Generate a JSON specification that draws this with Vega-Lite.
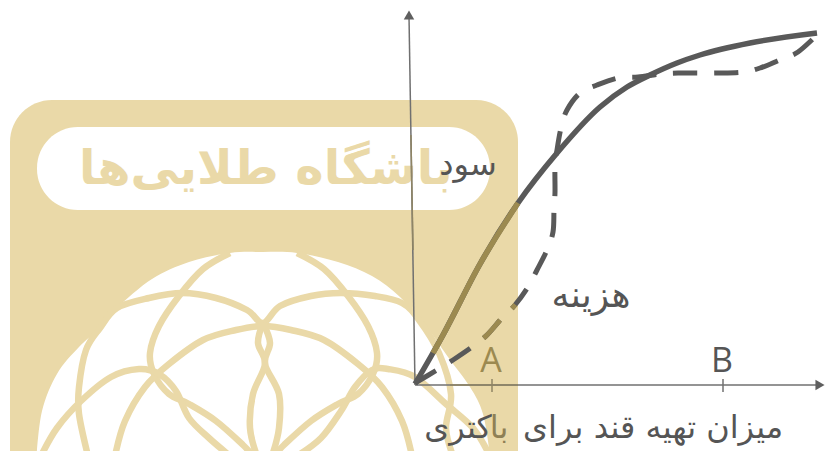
{"$schema":"https://vega.github.io/schema/vega-lite/v6.json","width":825,"height":451,"padding":0,"autosize":{"type":"none"},"background":"white","config":{"view":{"stroke":null}},
"datasets":{
"profit":[{"i":0,"x":415,"y":384},{"i":1,"x":443,"y":335},{"i":2,"x":480,"y":264},{"i":3,"x":518,"y":203},{"i":4,"x":557,"y":153},{"i":5,"x":600,"y":107},{"i":6,"x":627,"y":87},{"i":7,"x":650,"y":75},{"i":8,"x":677,"y":63},{"i":9,"x":700,"y":55},{"i":10,"x":750,"y":43},{"i":11,"x":817,"y":33}],
"profitBand":[{"i":1,"x":433,"y":353},{"i":2,"x":443,"y":335},{"i":3,"x":480,"y":264},{"i":4,"x":518,"y":203}],
"cost":[{"i":0,"x":415,"y":383},{"i":1,"x":437,"y":370},{"i":2,"x":453,"y":360},{"i":3,"x":472,"y":347},{"i":4,"x":487,"y":335},{"i":5,"x":502,"y":318},{"i":6,"x":515,"y":305},{"i":7,"x":528,"y":287},{"i":8,"x":537,"y":270},{"i":9,"x":547,"y":250},{"i":10,"x":553,"y":232},{"i":11,"x":554,"y":210},{"i":12,"x":555,"y":192},{"i":13,"x":555,"y":167},{"i":14,"x":557,"y":150},{"i":15,"x":561,"y":128},{"i":16,"x":567,"y":110},{"i":17,"x":580,"y":93},{"i":18,"x":597,"y":85},{"i":19,"x":618,"y":78},{"i":20,"x":638,"y":77},{"i":21,"x":660,"y":74},{"i":22,"x":678,"y":73},{"i":23,"x":702,"y":73},{"i":24,"x":718,"y":73},{"i":25,"x":743,"y":72},{"i":26,"x":760,"y":68},{"i":27,"x":782,"y":59},{"i":28,"x":798,"y":52},{"i":29,"x":817,"y":35}],
"axes":[{"s":"y","i":0,"x":409,"y":16},{"s":"y","i":1,"x":415,"y":385},{"s":"x","i":0,"x":415,"y":385},{"s":"x","i":1,"x":820,"y":385},{"s":"B","i":0,"x":723,"y":379},{"s":"B","i":1,"x":723,"y":392}],
"axesBand":[{"s":"y","i":0,"x":410.9,"y":135},{"s":"y","i":1,"x":413,"y":250},{"s":"x","i":0,"x":450,"y":385},{"s":"x","i":1,"x":518,"y":385},{"s":"A","i":0,"x":492,"y":379},{"s":"A","i":1,"x":492,"y":392}],
"heads":[{"s":"y","x":409,"y":15},{"s":"x","x":820,"y":385}],
"circle":[{"x":36.5,"y":456},{"x":42,"y":411},{"x":57,"y":374},{"x":79,"y":347},{"x":100,"y":328},{"x":117,"y":308},{"x":152,"y":279},{"x":189,"y":262},{"x":230,"y":253},{"x":263,"y":252},{"x":297,"y":253},{"x":338,"y":262},{"x":372,"y":276},{"x":400,"y":297},{"x":426,"y":326},{"x":448,"y":357},{"x":470,"y":387},{"x":483,"y":414},{"x":490,"y":456}],
"arcs":[
{"s":"a1","i":0,"x":88,"y":456},{"s":"a1","i":1,"x":79,"y":414},{"s":"a1","i":2,"x":79,"y":387},{"s":"a1","i":3,"x":86,"y":350},{"s":"a1","i":4,"x":100,"y":328},{"s":"a1","i":5,"x":117,"y":308},{"s":"a1","i":6,"x":149,"y":298},{"s":"a1","i":7,"x":182,"y":293},{"s":"a1","i":8,"x":216,"y":298},{"s":"a1","i":9,"x":247,"y":310},{"s":"a1","i":10,"x":263,"y":323},{"s":"a1","i":11,"x":280,"y":306},{"s":"a1","i":12,"x":311,"y":296},{"s":"a1","i":13,"x":341,"y":293},{"s":"a1","i":14,"x":375,"y":296},{"s":"a1","i":15,"x":402,"y":303},{"s":"a1","i":16,"x":419,"y":320},{"s":"a1","i":17,"x":439,"y":353},{"s":"a1","i":18,"x":451,"y":394},{"s":"a1","i":19,"x":446,"y":428},{"s":"a1","i":20,"x":453,"y":456},
{"s":"a2","i":0,"x":230,"y":253},{"s":"a2","i":1,"x":203,"y":269},{"s":"a2","i":2,"x":179,"y":296},{"s":"a2","i":3,"x":159,"y":326},{"s":"a2","i":4,"x":150,"y":353},{"s":"a2","i":5,"x":154,"y":374},{"s":"a2","i":6,"x":169,"y":394},{"s":"a2","i":7,"x":189,"y":404},{"s":"a2","i":8,"x":216,"y":421},{"s":"a2","i":9,"x":243,"y":445},{"s":"a2","i":10,"x":253,"y":456},
{"s":"a3","i":0,"x":297,"y":253},{"s":"a3","i":1,"x":324,"y":269},{"s":"a3","i":2,"x":348,"y":296},{"s":"a3","i":3,"x":368,"y":326},{"s":"a3","i":4,"x":377,"y":353},{"s":"a3","i":5,"x":373,"y":374},{"s":"a3","i":6,"x":358,"y":394},{"s":"a3","i":7,"x":338,"y":404},{"s":"a3","i":8,"x":311,"y":421},{"s":"a3","i":9,"x":284,"y":445},{"s":"a3","i":10,"x":274,"y":456},
{"s":"a4","i":0,"x":115,"y":456},{"s":"a4","i":1,"x":125,"y":421},{"s":"a4","i":2,"x":145,"y":387},{"s":"a4","i":3,"x":169,"y":364},{"s":"a4","i":4,"x":203,"y":340},{"s":"a4","i":5,"x":236,"y":330},{"s":"a4","i":6,"x":263,"y":326},{"s":"a4","i":7,"x":291,"y":330},{"s":"a4","i":8,"x":324,"y":340},{"s":"a4","i":9,"x":358,"y":364},{"s":"a4","i":10,"x":382,"y":387},{"s":"a4","i":11,"x":402,"y":421},{"s":"a4","i":12,"x":412,"y":456},
{"s":"a5","i":0,"x":41,"y":456},{"s":"a5","i":1,"x":57,"y":428},{"s":"a5","i":2,"x":81,"y":401},{"s":"a5","i":3,"x":111,"y":377},{"s":"a5","i":4,"x":139,"y":369},{"s":"a5","i":5,"x":159,"y":374},{"s":"a5","i":6,"x":176,"y":391},{"s":"a5","i":7,"x":189,"y":418},{"s":"a5","i":8,"x":209,"y":438},{"s":"a5","i":9,"x":230,"y":456},
{"s":"a6","i":0,"x":490,"y":456},{"s":"a6","i":1,"x":473,"y":428},{"s":"a6","i":2,"x":446,"y":404},{"s":"a6","i":3,"x":415,"y":377},{"s":"a6","i":4,"x":388,"y":369},{"s":"a6","i":5,"x":372,"y":370},{"s":"a6","i":6,"x":355,"y":387},{"s":"a6","i":7,"x":341,"y":411},{"s":"a6","i":8,"x":321,"y":438},{"s":"a6","i":9,"x":297,"y":456},
{"s":"a7","i":0,"x":263,"y":323},{"s":"a7","i":1,"x":258,"y":343},{"s":"a7","i":2,"x":265,"y":364},{"s":"a7","i":3,"x":253,"y":394},{"s":"a7","i":4,"x":250,"y":428},{"s":"a7","i":5,"x":257,"y":456},
{"s":"a8","i":0,"x":263,"y":323},{"s":"a8","i":1,"x":270,"y":343},{"s":"a8","i":2,"x":265,"y":364},{"s":"a8","i":3,"x":279,"y":394},{"s":"a8","i":4,"x":279,"y":428},{"s":"a8","i":5,"x":272,"y":456}],
"labels":[{"t":"سود","x":468,"y":165},{"t":"میزان تهیه قند برای","x":653,"y":428},{"t":"کتری","x":458,"y":428}],
"costLabel":[{"t":"هزینه","x":591,"y":296}],
"bandLabels":[{"t":"با","x":499,"y":428}],
"latin":[{"t":"B","x":722,"y":362}],
"bandLatin":[{"t":"A","x":491,"y":362}]
},
"encoding":{"x":{"field":"x","type":"quantitative","axis":null,"scale":{"domain":[0,825],"nice":false,"zero":false}},"y":{"field":"y","type":"quantitative","axis":null,"scale":{"domain":[0,451],"reverse":true,"nice":false,"zero":false}}},
"layer":[
{"data":{"values":[{"x":10,"x2":518,"y":100,"y2":451}]},"mark":{"type":"rect","fill":"#ead9a8","cornerRadiusTopLeft":42,"cornerRadiusTopRight":42},"encoding":{"x2":{"field":"x2"},"y2":{"field":"y2"}}},
{"data":{"values":[{"x":37,"x2":490,"y":127,"y2":210}]},"mark":{"type":"rect","fill":"white","cornerRadius":41},"encoding":{"x2":{"field":"x2"},"y2":{"field":"y2"}}},
{"data":{"values":[{"t":"باشگاه طلایی‌ها","x":266,"y":170}]},"mark":{"type":"text","font":"DejaVu Sans","fontWeight":"bold","fontSize":48,"color":"#ead9a8","baseline":"middle"},"encoding":{"text":{"field":"t"}}},
{"data":{"name":"circle"},"mark":{"type":"area","fill":"white","interpolate":"cardinal","clip":true},"encoding":{"y2":{"datum":456}}},
{"data":{"name":"arcs"},"mark":{"type":"line","stroke":"#ead9a8","strokeWidth":6.5,"interpolate":"cardinal","clip":true},"encoding":{"detail":{"field":"s"},"order":{"field":"i"}}},
{"data":{"name":"axes"},"mark":{"type":"line","stroke":"#707070","strokeWidth":1.5},"encoding":{"detail":{"field":"s"},"order":{"field":"i"}}},
{"data":{"name":"axesBand"},"mark":{"type":"line","stroke":"#8f8565","strokeWidth":1.5},"encoding":{"detail":{"field":"s"},"order":{"field":"i"}}},
{"data":{"name":"heads"},"transform":[{"filter":"datum.s==='y'"}],"mark":{"type":"point","shape":"triangle-up","filled":true,"color":"#5f5f5f","opacity":1,"size":110}},
{"data":{"name":"heads"},"transform":[{"filter":"datum.s==='x'"}],"mark":{"type":"point","shape":"triangle-right","filled":true,"color":"#5f5f5f","opacity":1,"size":110}},
{"data":{"name":"cost"},"mark":{"type":"line","stroke":"#595959","strokeWidth":5,"interpolate":"cardinal","strokeDash":[24,17.1]},"encoding":{"order":{"field":"i"}}},
{"data":{"name":"cost"},"mark":{"type":"line","stroke":"#9c8a50","strokeWidth":5,"interpolate":"cardinal","strokeDash":[0,82.2,24,17.1,5,2000]},"encoding":{"order":{"field":"i"}}},
{"data":{"name":"profit"},"mark":{"type":"line","stroke":"#595959","strokeWidth":5.5,"interpolate":"monotone"},"encoding":{"order":{"field":"i"}}},
{"data":{"name":"profitBand"},"mark":{"type":"line","stroke":"#9c8a50","strokeWidth":5.5,"interpolate":"monotone"},"encoding":{"order":{"field":"i"}}},
{"data":{"name":"labels"},"mark":{"type":"text","font":"DejaVu Sans","fontSize":32,"color":"#555555","baseline":"middle"},"encoding":{"text":{"field":"t"}}},
{"data":{"name":"costLabel"},"mark":{"type":"text","font":"DejaVu Sans","fontSize":36,"color":"#555555","baseline":"middle"},"encoding":{"text":{"field":"t"}}},
{"data":{"name":"bandLabels"},"mark":{"type":"text","font":"DejaVu Sans","fontSize":32,"color":"#8f8055","baseline":"middle"},"encoding":{"text":{"field":"t"}}},
{"data":{"name":"latin"},"mark":{"type":"text","font":"Open Sans","fontSize":34,"color":"#555555","baseline":"middle"},"encoding":{"text":{"field":"t"}}},
{"data":{"name":"bandLatin"},"mark":{"type":"text","font":"Open Sans","fontSize":34,"color":"#9c8a50","baseline":"middle"},"encoding":{"text":{"field":"t"}}}
]}
